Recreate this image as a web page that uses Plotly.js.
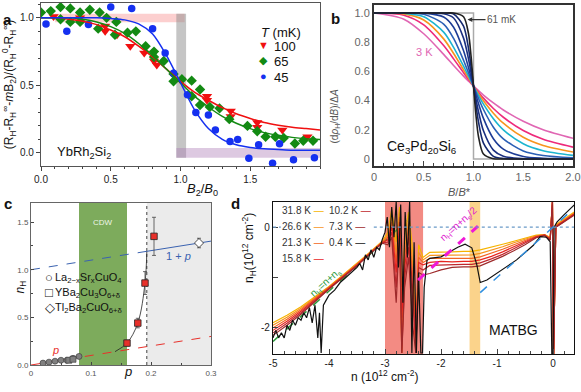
<!DOCTYPE html>
<html>
<head>
<meta charset="utf-8">
<script src="https://cdn.plot.ly/plotly-3.0.1.min.js"></script>
<style>body{margin:0;background:#fff}#chart{width:581px;height:392px}</style>
</head>
<body>
<div id="chart"></div>
<script>
// ---- panel a : YbRh2Si2 ----
const aRedX = [0.09, 0.28, 0.28, 0.46, 0.46, 0.545, 0.64, 0.74, 0.81, 0.83, 1.0, 1.19, 1.19, 1.36, 1.36, 1.55, 1.55, 1.73, 1.91];
const aRedY = [1.01, 1.0, 0.97, 0.94, 0.9, 0.875, 0.79, 0.74, 0.68, 0.65, 0.54, 0.42, 0.39, 0.31, 0.27, 0.225, 0.19, 0.17, 0.12];
const aGreenX = [0.0, 0.07, 0.14, 0.14, 0.21, 0.21, 0.28, 0.28, 0.35, 0.41, 0.42, 0.47, 0.53, 0.54, 0.62, 0.68, 0.75, 0.81, 0.81, 0.88, 0.95, 0.95, 1.01, 1.08, 1.08, 1.14, 1.14, 1.21, 1.28, 1.35, 1.48, 1.55, 1.61, 1.68, 1.74, 1.82, 1.88, 1.95];
const aGreenY = [1.04, 1.05, 1.08, 0.99, 1.07, 0.97, 1.04, 0.97, 1.06, 0.92, 1.04, 1.0, 0.875, 0.97, 0.89, 0.9, 0.79, 0.75, 0.71, 0.68, 0.585, 0.53, 0.545, 0.535, 0.42, 0.47, 0.355, 0.34, 0.33, 0.25, 0.2, 0.16, 0.12, 0.12, 0.11, 0.07, 0.09, 0.09];
const aBlueX = [0.036, 0.185, 0.34, 0.5, 0.65, 0.8, 0.89, 0.95, 1.05, 1.11, 1.2, 1.25, 1.355, 1.41, 1.49, 1.56, 1.66, 1.71, 1.81, 1.96];
const aBlueY = [0.955, 0.9, 0.95, 1.08, 1.07, 0.92, 0.74, 0.59, 0.43, 0.3, 0.28, 0.17, 0.084, 0.1, -0.04, 0.06, -0.076, 0.067, -0.05, -0.035];
const aFitX = [0, 0.1, 0.2, 0.3, 0.4, 0.5, 0.6, 0.7, 0.8, 0.9, 1.0, 1.1, 1.2, 1.3, 1.4, 1.5, 1.6, 1.7, 1.8, 1.9, 2.0];
const aFitRed = [1.0, 1.0, 0.99, 0.975, 0.95, 0.91, 0.86, 0.79, 0.71, 0.62, 0.53, 0.45, 0.39, 0.335, 0.29, 0.255, 0.225, 0.205, 0.19, 0.18, 0.17];
const aFitGreen = [1.0, 1.0, 1.0, 0.99, 0.97, 0.935, 0.885, 0.81, 0.72, 0.62, 0.52, 0.42, 0.34, 0.27, 0.22, 0.18, 0.15, 0.13, 0.115, 0.105, 0.1];
const aFitBlue = [1.0, 1.0, 1.0, 1.0, 1.0, 0.995, 0.985, 0.955, 0.88, 0.72, 0.52, 0.32, 0.18, 0.1, 0.06, 0.04, 0.03, 0.025, 0.02, 0.02, 0.02];
const aTemps = ['100', '65', '45'];
const aColors = ['#f01010', '#138a13', '#1530f0'];
const aGlyphs = ['▼', '◆', '●'];

// ---- panel b : Ce3Pd20Si6 ----
const bX = [0, 0.3, 0.5, 0.7, 0.8, 0.9, 0.95, 0.975, 1.0, 1.025, 1.05, 1.1, 1.2, 1.3, 1.5, 1.7, 2.0];
const bCurves = [
  [1.0, 0.958, 0.858, 0.717, 0.641, 0.568, 0.533, 0.516, 0.5, 0.484, 0.468, 0.438, 0.384, 0.336, 0.259, 0.201, 0.142],
  [1.0, 0.985, 0.919, 0.777, 0.686, 0.591, 0.545, 0.522, 0.5, 0.478, 0.457, 0.417, 0.346, 0.286, 0.195, 0.135, 0.081],
  [1.0, 0.994, 0.952, 0.823, 0.723, 0.611, 0.555, 0.527, 0.5, 0.473, 0.448, 0.399, 0.314, 0.245, 0.149, 0.093, 0.048],
  [1.0, 0.998, 0.975, 0.869, 0.765, 0.636, 0.568, 0.534, 0.5, 0.467, 0.436, 0.376, 0.276, 0.2, 0.105, 0.057, 0.025],
  [1.0, 1.0, 0.992, 0.924, 0.826, 0.676, 0.589, 0.544, 0.5, 0.457, 0.415, 0.339, 0.218, 0.138, 0.055, 0.024, 0.008],
  [1.0, 1.0, 0.999, 0.973, 0.903, 0.741, 0.625, 0.563, 0.5, 0.439, 0.38, 0.278, 0.139, 0.068, 0.017, 0.005, 0.001],
  [1.0, 1.0, 1.0, 0.995, 0.966, 0.828, 0.684, 0.594, 0.5, 0.408, 0.325, 0.193, 0.061, 0.019, 0.002, 0.0, 0.0],
  [1.0, 1.0, 1.0, 1.0, 0.993, 0.91, 0.756, 0.636, 0.5, 0.368, 0.255, 0.109, 0.018, 0.003, 0.0, 0.0, 0.0],
  [1.0, 1.0, 1.0, 1.0, 1.0, 0.975, 0.858, 0.708, 0.5, 0.297, 0.154, 0.034, 0.002, 0.0, 0.0, 0.0, 0.0]
];
const bColors = ['#e066b3', '#ee2a7b', '#f7941d', '#1cb5d0', '#2b5fb5', '#1d3c96', '#1a2f80', '#14286e', '#222222'];
const bStepX = [0, 1, 1, 2];
const bStepY = [1, 1, 0, 0];

// ---- panel c : cuprates ----
const cLscoX = [0.02, 0.03, 0.04, 0.05, 0.06, 0.07, 0.08];
const cLscoY = [0.02, 0.03, 0.04, 0.05, 0.05, 0.07, 0.09];
const cYbcoLowX = [0.063, 0.07];
const cYbcoLowY = [0.05, 0.06];
const cYbcoX = [0.16, 0.178, 0.19, 0.205];
const cYbcoY = [0.23, 0.44, 0.86, 1.35];
const cYbcoErr = [0.03, 0.05, 0.12, 0.2];
const cTlX = [0.28];
const cTlY = [1.28];
const cGuideX = [0.14, 0.16, 0.178, 0.19, 0.193];
const cGuideY = [0.14, 0.23, 0.44, 0.86, 1.19];
const cLegend = ['La<sub>2−x</sub>Sr<sub>x</sub>CuO<sub>4</sub>', 'YBa<sub>2</sub>Cu<sub>3</sub>O<sub>6+δ</sub>', 'Tl<sub>2</sub>Ba<sub>2</sub>CuO<sub>6+δ</sub>'];
const cGlyphs = ['○', '□', '◇'];

// ---- panel d : MATBG ----
const dX = [-5, -4.75, -4.5, -4.25, -4, -3.75, -3.5, -3.25, -3.05, -2.95, -2.88, -2.8, -2.74, -2.7, -2.65, -2.58, -2.5, -2.45, -2.4, -2.32, -2.2, -2.0, -1.8, -1.6, -1.45, -1.3, -1.1, -0.9, -0.7, -0.5, -0.3, -0.15, -0.05, -0.01, 0.01, 0.05, 0.2, 0.38];
const dT318 = [-1.9, -1.75, -1.58, -1.38, -1.18, -0.95, -0.72, -0.48, -0.28, -0.1, 0.35, -0.3, 0.4, -2.5, -0.2, 0.3, -0.5, -2.5, -0.35, -0.6, -0.5, -0.5, -0.49, -0.48, -0.48, -0.45, -0.4, -0.34, -0.28, -0.22, -0.16, -0.15, -0.2, 0.5, -2.6, 0.05, 0.17, 0.3];
const dT266 = [-1.95, -1.79, -1.61, -1.4, -1.19, -0.96, -0.73, -0.49, -0.29, -0.15, 0.2, -0.5, 0.3, -1.5, -0.4, 0.1, -0.8, -2.5, -0.5, -0.65, -0.56, -0.56, -0.56, -0.55, -0.55, -0.52, -0.46, -0.39, -0.31, -0.24, -0.17, -0.15, -0.22, 0.5, -2.6, 0.03, 0.15, 0.28];
const dT213 = [-2.0, -1.83, -1.64, -1.42, -1.2, -0.97, -0.74, -0.5, -0.3, -0.2, 0.1, -0.7, 0.2, -2.5, -0.6, 0.0, -1.0, -2.0, -0.6, -0.7, -0.62, -0.62, -0.63, -0.62, -0.62, -0.59, -0.52, -0.44, -0.35, -0.26, -0.18, -0.15, -0.23, 0.5, -2.6, 0.02, 0.14, 0.27];
const dT158 = [-2.05, -1.87, -1.67, -1.44, -1.21, -0.98, -0.75, -0.5, -0.31, -0.25, 0.0, -0.9, 0.1, -1.8, -0.8, -0.2, -1.3, -2.5, -0.7, -0.75, -0.7, -0.68, -0.69, -0.68, -0.68, -0.65, -0.58, -0.49, -0.39, -0.29, -0.19, -0.16, -0.24, 0.5, -2.6, 0.01, 0.13, 0.26];
const dT102 = [-2.1, -1.91, -1.7, -1.46, -1.22, -0.99, -0.76, -0.51, -0.31, -0.3, -0.1, -1.2, 0.0, -2.5, -1.0, -0.4, -1.6, -2.2, -0.8, -0.85, -0.76, -0.75, -0.75, -0.74, -0.74, -0.71, -0.63, -0.54, -0.43, -0.32, -0.2, -0.16, -0.25, 0.5, -2.6, 0.0, 0.12, 0.25];
const dT73 = [-2.15, -1.95, -1.73, -1.48, -1.23, -1.0, -0.77, -0.51, -0.32, -0.35, -0.2, -1.5, -0.1, -2.5, -1.2, -0.6, -2.0, -2.5, -0.9, -0.95, -0.92, -0.85, -0.8, -0.79, -0.79, -0.77, -0.68, -0.58, -0.47, -0.35, -0.21, -0.17, -0.26, 0.5, -2.6, 0.0, 0.11, 0.24];
const dBlackX = [-5, -4.95, -4.9, -4.85, -4.8, -4.75, -4.7, -4.65, -4.6, -4.55, -4.5, -4.45, -4.4, -4.35, -4.3, -4.25, -4.2, -4.17, -4.14, -4.1, -4.05, -4.0, -3.9, -3.8, -3.7, -3.6, -3.5, -3.45, -3.4, -3.35, -3.3, -3.25, -3.2, -3.15, -3.1, -3.05, -3.0, -2.96, -2.92, -2.88, -2.84, -2.8, -2.76, -2.72, -2.68, -2.64, -2.6, -2.56, -2.52, -2.48, -2.44, -2.4, -2.36, -2.33, -2.3, -2.25, -2.2, -2.0, -1.84, -1.7, -1.57, -1.45, -1.36, -1.3, -1.18, -0.95, -0.65, -0.35, -0.23, -0.12, -0.05, -0.02, 0.0, 0.02, 0.07, 0.19, 0.38];
const dBlackY = [-2.2, -2.05, -2.2, -2.1, -2.2, -1.95, -2.05, -1.85, -1.95, -1.8, -1.85, -1.7, -1.8, -1.6, -1.9, -1.55, -2.2, -1.7, -2.5, -1.55, -1.45, -1.35, -1.25, -1.1, -1.0, -0.9, -0.8, -0.72, -0.85, -0.55, -0.65, -0.45, -0.6, -0.4, -0.45, -0.25, -0.1, 0.2, -0.4, 0.4, -0.2, 0.5, -0.8, 0.45, -1.5, 0.3, -0.6, 0.5, -2.5, -0.3, -2.5, -0.9, -2.5, -2.5, -1.2, -0.66, -0.62, -0.59, -0.49, -0.4, -0.34, -0.41, -0.75, -1.1, -1.05, -0.88, -0.65, -0.36, -0.19, -0.2, -0.29, -2.6, -2.6, 0.0, 0.1, 0.24, 0.44];
const dSeries = [dT318, dT266, dT213, dT158, dT102, dT73];
const dLabels = ['31.8 K', '26.6 K', '21.3 K', '15.8 K', '10.2 K', '7.3 K', '0.4 K'];
const dColors = ['#f6b300', '#f7941d', '#f26522', '#e8251f', '#c1272d', '#9e2a2b', '#111111'];
const dGreenX = [-5, -2.6];
const dGreenY = [-2.27, 0.13];
const dMagX = [-2.41, -1.34];
const dMagY = [-1.05, 0.02];
const dBlueX = [-1.3, 0.37];
const dBlueY = [-1.3, 0.37];

const W = 581, H = 392;
function px(x) { return x / W; }
function py(y) { return 1 - y / H; }

const traces = [];
// a
traces.push({x: aRedX, y: aRedY, mode: 'markers', xaxis: 'x', yaxis: 'y',
  marker: {symbol: 'triangle-down', size: 9, color: aColors[0]}});
traces.push({x: aGreenX, y: aGreenY, mode: 'markers', xaxis: 'x', yaxis: 'y',
  marker: {symbol: 'diamond', size: 8, color: aColors[1]}});
traces.push({x: aBlueX, y: aBlueY, mode: 'markers', xaxis: 'x', yaxis: 'y',
  marker: {symbol: 'circle', size: 7.5, color: aColors[2]}});
[aFitRed, aFitGreen, aFitBlue].forEach(function (f, i) {
  traces.push({x: aFitX, y: f, mode: 'lines', xaxis: 'x', yaxis: 'y',
    line: {color: aColors[i], width: 1.5, shape: 'spline', smoothing: 0.8}});
});
// b
traces.push({x: bStepX, y: bStepY, mode: 'lines', xaxis: 'x2', yaxis: 'y2',
  line: {color: '#aaaaaa', width: 1.5}});
bCurves.forEach(function (c, i) {
  traces.push({x: bX, y: c, mode: 'lines', xaxis: 'x2', yaxis: 'y2',
    line: {color: bColors[i], width: 1.6, shape: 'spline', smoothing: 0.8}});
});
// c
traces.push({x: [0, 0.19], y: [1.0, 1.19], mode: 'lines', xaxis: 'x3', yaxis: 'y3',
  line: {color: '#3a62b0', width: 1, dash: 'dash'}});
traces.push({x: [0.19, 0.3], y: [1.19, 1.3], mode: 'lines', xaxis: 'x3', yaxis: 'y3',
  line: {color: '#3a62b0', width: 1}});
traces.push({x: [0, 0.06], y: [0, 0.06], mode: 'lines', xaxis: 'x3', yaxis: 'y3',
  line: {color: '#e8302a', width: 1}});
traces.push({x: [0.06, 0.3], y: [0.06, 0.3], mode: 'lines', xaxis: 'x3', yaxis: 'y3',
  line: {color: '#e8302a', width: 1, dash: 'dash'}});
traces.push({x: cGuideX, y: cGuideY, mode: 'lines', xaxis: 'x3', yaxis: 'y3',
  line: {color: '#222', width: 0.8, shape: 'spline'}});
traces.push({x: cLscoX, y: cLscoY, mode: 'markers', xaxis: 'x3', yaxis: 'y3',
  marker: {symbol: 'circle', size: 6, color: '#808080', line: {color: '#333', width: 0.6}}});
traces.push({x: cYbcoLowX, y: cYbcoLowY, mode: 'markers', xaxis: 'x3', yaxis: 'y3',
  marker: {symbol: 'square', size: 6, color: '#808080', line: {color: '#333', width: 0.6}}});
traces.push({x: cYbcoX, y: cYbcoY, mode: 'markers', xaxis: 'x3', yaxis: 'y3',
  error_y: {type: 'data', array: cYbcoErr, color: '#444', thickness: 0.8, width: 2},
  marker: {symbol: 'square', size: 6.5, color: '#e8302a', line: {color: '#222', width: 0.8}}});
traces.push({x: cTlX, y: cTlY, mode: 'markers', xaxis: 'x3', yaxis: 'y3',
  error_y: {type: 'data', array: [0.05], color: '#444', thickness: 0.8, width: 2},
  error_x: {type: 'data', array: [0.006], color: '#444', thickness: 0.8, width: 0},
  marker: {symbol: 'diamond', size: 7, color: '#fff', line: {color: '#222', width: 0.8}}});
// d
traces.push({x: dGreenX, y: dGreenY, mode: 'lines', xaxis: 'x4', yaxis: 'y4',
  line: {color: '#2a9a3a', width: 1.5, dash: 'dash'}});
dSeries.forEach(function (s, i) {
  traces.push({x: dX, y: s, mode: 'lines', xaxis: 'x4', yaxis: 'y4',
    line: {color: dColors[i], width: 1.2}});
});
traces.push({x: dBlackX, y: dBlackY, mode: 'lines', xaxis: 'x4', yaxis: 'y4',
  line: {color: dColors[6], width: 1.2}});
traces.push({x: dMagX, y: dMagY, mode: 'lines', xaxis: 'x4', yaxis: 'y4',
  line: {color: '#f018d8', width: 3, dash: 'dash'}});
traces.push({x: dBlueX, y: dBlueY, mode: 'lines', xaxis: 'x4', yaxis: 'y4',
  line: {color: '#2f8fe0', width: 1.5, dash: 'dash'}});

const baseAx = {showgrid: false, zeroline: false, showline: true, mirror: true};
const font = 'Liberation Sans, Arial, sans-serif';

const shapes = [
  {type: 'rect', xref: 'x', yref: 'y', x0: 0.1, x1: 1.03, y0: 0.967, y1: 1.03, fillcolor: 'rgba(250,160,160,0.5)', line: {width: 0}, layer: 'below'},
  {type: 'rect', xref: 'x', yref: 'y', x0: 0.97, x1: 1.04, y0: -0.035, y1: 1.03, fillcolor: 'rgba(140,140,140,0.5)', line: {width: 0}, layer: 'below'},
  {type: 'rect', xref: 'x', yref: 'y', x0: 0.97, x1: 2.0, y0: -0.035, y1: 0.037, fillcolor: 'rgba(170,120,180,0.4)', line: {width: 0}, layer: 'below'},
  {type: 'rect', xref: 'x3', yref: 'y3', x0: 0.08, x1: 0.16, y0: 0, y1: 1.7, fillcolor: '#7dab5c', line: {width: 0}, layer: 'below'},
  {type: 'rect', xref: 'x3', yref: 'y3', x0: 0.193, x1: 0.3, y0: 0, y1: 1.7, fillcolor: '#ebebeb', line: {width: 0}, layer: 'below'},
  {type: 'line', xref: 'x3', yref: 'y3', x0: 0.193, x1: 0.193, y0: 0, y1: 1.7, line: {color: '#444', width: 1, dash: 'dot'}, layer: 'below'},
  {type: 'rect', xref: 'x4', yref: 'y4', x0: -3.0, x1: -2.32, y0: -2.52, y1: 0.5, fillcolor: 'rgba(240,110,100,0.8)', line: {width: 0}, layer: 'below'},
  {type: 'rect', xref: 'x4', yref: 'y4', x0: -1.49, x1: -1.3, y0: -2.52, y1: 0.5, fillcolor: 'rgba(250,200,110,0.8)', line: {width: 0}, layer: 'below'},
  {type: 'line', xref: 'x4', yref: 'y4', x0: -5, x1: -4.86, y0: 0, y1: 0, line: {color: '#6a9ac8', width: 1.2, dash: 'dot'}},
  {type: 'line', xref: 'x4', yref: 'y4', x0: -3.2, x1: 0.375, y0: 0, y1: 0, line: {color: '#6a9ac8', width: 1.2, dash: 'dot'}}
];

const ann = [];
function A(o) { ann.push(Object.assign({showarrow: false, font: {family: font, size: 12, color: '#111'}}, o)); }
function P(text, x, y, size, color, extra) {
  A(Object.assign({text: text, xref: 'paper', yref: 'paper', x: px(x), y: py(y), font: {family: font, size: size, color: color || '#111'}}, extra || {}));
}
P('<b>a</b>', 1, 9, 15, '#111', {xanchor: 'left'});
P('<b>b</b>', 329, 8, 15, '#111', {xanchor: 'left'});
P('<b>c</b>', 2, 203, 15, '#111', {xanchor: 'left'});
P('<b>d</b>', 229, 203, 15, '#111', {xanchor: 'left'});
// axis titles (panel a y title is the axis title)
P('<i>B</i><sub>2</sub>/<i>B</i><sub>0</sub>', 185, 189, 13);
P('(d<i>ρ</i><sub>H</sub>/d<i>B</i>)/Δ<i>A</i>', 335, 87, 10, '#555', {textangle: -90});
P('<i>B</i>/<i>B</i>*', 473, 192, 11, '#555');
P('<i>n</i><sub>H</sub>', 10, 296, 12, '#111', {textangle: -90});
P('<i>p</i>', 122, 381, 13);
P('n<sub>H</sub>(10<sup>12</sup> cm<sup>-2</sup>)', 249, 285, 12, '#111', {textangle: -90});
P('n (10<sup>12</sup> cm<sup>-2</sup>)', 420, 386, 12);
// panel a legend
P('<i>T</i> (mK)', 259, 23, 13, '#111', {xanchor: 'left'});
aTemps.forEach(function (t, i) {
  P(aGlyphs[i], 263, 37 + i * 15.5, 11, aColors[i]);
  P(t, 272, 37 + i * 15.5, 13, '#111', {xanchor: 'left'});
});
// panel c legend
cLegend.forEach(function (t, i) {
  P(cGlyphs[i], 43, 287 + i * 15, 13, '#111');
  P(t, 53, 287 + i * 15, 11, '#111', {xanchor: 'left'});
});
// in-plot labels
A({text: 'YbRh<sub>2</sub>Si<sub>2</sub>', xref: 'x', yref: 'y', x: 0.1, y: 0.0, xanchor: 'left', font: {family: font, size: 13, color: '#111'}});
A({text: 'Ce<sub>3</sub>Pd<sub>20</sub>Si<sub>6</sub>', xref: 'x2', yref: 'y2', x: 0.11, y: 0.08, xanchor: 'left', font: {family: font, size: 14, color: '#111'}});
A({text: '3 K', xref: 'x2', yref: 'y2', x: 0.51, y: 0.73, font: {family: font, size: 11, color: '#e066b3'}});
A({text: '61 mK', xref: 'x2', yref: 'y2', x: 0.94, y: 0.955, showarrow: true, ax: 34, ay: 0, arrowhead: 2, arrowsize: 0.8, arrowwidth: 1.2, arrowcolor: '#333', font: {family: font, size: 10, color: '#555'}});
A({text: 'CDW', xref: 'x3', yref: 'y3', x: 0.12, y: 1.5, font: {family: font, size: 8, color: '#eef5e6'}});
A({text: '<i>p</i>', xref: 'x3', yref: 'y3', x: 0.04, y: 0.16, font: {family: font, size: 11, color: '#e8302a'}});
A({text: '1 + <i>p</i>', xref: 'x3', yref: 'y3', x: 0.245, y: 1.14, font: {family: font, size: 11, color: '#3a62b0'}});
A({text: 'MATBG', xref: 'x4', yref: 'y4', x: -0.7, y: -2.04, font: {family: font, size: 14, color: '#111'}});
A({text: 'n<sub>H</sub>=n+n<sub>s</sub>', xref: 'x4', yref: 'y4', x: -4.07, y: -1.11, textangle: -42, font: {family: font, size: 10, color: '#2a9a3a'}});
A({text: 'n<sub>H</sub>=n+n<sub>s</sub>/2', xref: 'x4', yref: 'y4', x: -1.68, y: 0.06, textangle: -42, font: {family: font, size: 10, color: '#e020d0'}});
// panel d legend
const dLegPos = [[280, 210], [280, 226], [280, 242], [280, 258], [327, 210], [327, 226], [327, 242]];
dLabels.forEach(function (l, i) {
  P(l + ' <span style="color:' + dColors[i] + '">—</span>', dLegPos[i][0], dLegPos[i][1], 10, '#333', {xanchor: 'left'});
});

const layout = {
  width: W, height: H,
  margin: {l: 0, r: 0, t: 0, b: 0},
  paper_bgcolor: '#fff', plot_bgcolor: 'rgba(0,0,0,0)',
  font: {family: font, size: 10, color: '#222'},
  showlegend: false,
  xaxis: Object.assign({}, baseAx, {domain: [px(41), px(320)], range: [0, 2.0], anchor: 'y',
    tickvals: [0, 0.5, 1, 1.5], ticktext: ['0.0', '0.5', '1.0', '1.5'], ticks: 'outside', ticklen: 4,
    minor: {ticks: 'outside', ticklen: 2, dtick: 0.1}, linecolor: '#555', linewidth: 1.2, tickfont: {size: 10}}),
  yaxis: Object.assign({}, baseAx, {domain: [py(166), py(3)], range: [-0.097, 1.11], anchor: 'x',
    tickvals: [0, 0.5, 1], ticktext: ['0.0', '0.5', '1.0'], ticks: 'outside', ticklen: 4,
    minor: {ticks: 'outside', ticklen: 2, dtick: 0.1}, linecolor: '#555', linewidth: 1.2, tickfont: {size: 10},
    title: {text: '(R<sub>H</sub>-R<sub>H</sub><sup>∞</sup>-<i>m</i>B<sub>2</sub>)/(R<sub>H</sub><sup>0</sup>-R<sub>H</sub><sup>∞</sup>)',
      font: {size: 12, color: '#111'}, standoff: 3}}),
  xaxis2: Object.assign({}, baseAx, {domain: [px(374), px(573)], range: [0, 2.0], anchor: 'y2',
    tickvals: [0, 0.5, 1, 1.5, 2], ticktext: ['0', '0.5', '1.0', '1.5', '2.0'], ticks: 'inside', ticklen: 5,
    minor: {ticks: 'inside', ticklen: 3, dtick: 0.1}, linecolor: '#333', linewidth: 2, tickfont: {size: 11, color: '#666'}}),
  yaxis2: Object.assign({}, baseAx, {domain: [py(166), py(5)], range: [-0.048, 1.055], anchor: 'x2',
    tickvals: [0, 0.2, 0.4, 0.6, 0.8, 1.0], ticktext: ['0', '0.2', '0.4', '0.6', '0.8', '1.0'], ticks: '',
    linecolor: '#333', linewidth: 2, tickfont: {size: 11, color: '#666'}}),
  xaxis3: Object.assign({}, baseAx, {domain: [px(31), px(211)], range: [0, 0.3], anchor: 'y3',
    tickvals: [0, 0.1, 0.2, 0.3], ticktext: ['0', '0.1', '0.2', '0.3'], ticks: 'inside', ticklen: 3,
    minor: {ticks: 'inside', ticklen: 2, dtick: 0.05}, linecolor: '#666', linewidth: 1, tickfont: {size: 8, color: '#555'}}),
  yaxis3: Object.assign({}, baseAx, {domain: [py(365), py(203)], range: [0, 1.7], anchor: 'x3',
    tickvals: [0, 0.5, 1, 1.5], ticktext: ['0.0', '0.5', '1.0', '1.5'], ticks: 'inside', ticklen: 3,
    minor: {ticks: 'inside', ticklen: 2, dtick: 0.25}, linecolor: '#666', linewidth: 1, tickfont: {size: 8, color: '#555'}}),
  xaxis4: Object.assign({}, baseAx, {domain: [px(273), px(574)], range: [-5, 0.375], anchor: 'y4',
    tickvals: [-5, -4, -3, -2, -1, 0], ticktext: ['-5', '-4', '-3', '-2', '-1', '0'], ticks: 'inside', ticklen: 5,
    minor: {ticks: 'inside', ticklen: 3, dtick: 0.2}, linecolor: '#111', linewidth: 1.2, tickfont: {size: 10, color: '#222'}}),
  yaxis4: Object.assign({}, baseAx, {domain: [py(354), py(202)], range: [-2.52, 0.5], anchor: 'x4',
    tickvals: [-2, -1, 0], ticktext: ['-2', '', '0'], ticks: 'inside', ticklen: 5,
    linecolor: '#111', linewidth: 1.2, tickfont: {size: 10, color: '#222'}}),
  shapes: shapes,
  annotations: ann
};

Plotly.newPlot('chart', traces, layout, {displayModeBar: false, staticPlot: true});
</script>
</body>
</html>
